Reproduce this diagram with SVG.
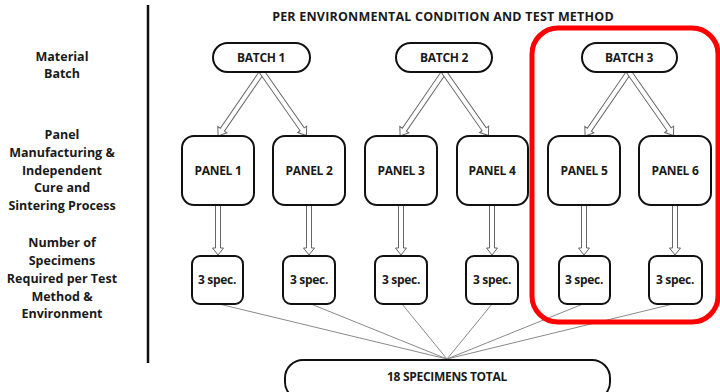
<svg xmlns="http://www.w3.org/2000/svg" width="720" height="392" viewBox="0 0 720 392">
<style>
text{font-family:"Open Sans","Liberation Sans",Arial,sans-serif;font-weight:bold;fill:#1a1a1a;text-anchor:middle}
.lbl{font-size:12.5px}
.ttl{font-size:12.5px;letter-spacing:0.2px}
.nt{font-size:12px;letter-spacing:-0.3px}
.box{fill:#fff;stroke:#111;stroke-width:2}
.arr{fill:#fff;stroke:#666;stroke-width:1}
.ln{stroke:#8a8a8a;stroke-width:1;fill:none}
</style>
<defs>
<path id="ad" class="arr" d="M0,-2.5 L70,-2.5 L70,-5.5 L77.5,0 L70,5.5 L70,2.5 L0,2.5 Z"/>
<path id="av" class="arr" d="M0,-2.5 L43,-2.5 L43,-5.5 L50,0 L43,5.5 L43,2.5 L0,2.5 Z"/>
</defs>
<rect width="720" height="392" fill="#fff"/>
<line x1="148" y1="5" x2="148" y2="363" stroke="#111" stroke-width="2.5"/>
<text x="443" y="21" class="ttl">PER ENVIRONMENTAL CONDITION AND TEST METHOD</text>
<g id="labels">
<text x="62" y="61" class="lbl">Material</text>
<text x="62" y="78" class="lbl">Batch</text>
<text x="62" y="139" class="lbl">Panel</text>
<text x="62" y="157" class="lbl">Manufacturing &amp;</text>
<text x="62" y="175" class="lbl">Independent</text>
<text x="62" y="192" class="lbl">Cure and</text>
<text x="62" y="210" class="lbl">Sintering Process</text>
<text x="62" y="247" class="lbl">Number of</text>
<text x="62" y="265" class="lbl">Specimens</text>
<text x="62" y="283" class="lbl">Required per Test</text>
<text x="62" y="301" class="lbl">Method &amp;</text>
<text x="62" y="318" class="lbl">Environment</text>
</g>
<g id="connectors">
<line class="ln" x1="219" y1="304" x2="447" y2="359"/>
<line class="ln" x1="311" y1="304" x2="447" y2="359"/>
<line class="ln" x1="402" y1="304" x2="447" y2="359"/>
<line class="ln" x1="492" y1="304" x2="447" y2="359"/>
<line class="ln" x1="583" y1="304" x2="447" y2="359"/>
<line class="ln" x1="673" y1="304" x2="447" y2="359"/>
<use href="#ad" transform="translate(262,72) rotate(124.5)"/>
<use href="#ad" transform="translate(262,72) rotate(55)"/>
<use href="#ad" transform="translate(444,72) rotate(124.5)"/>
<use href="#ad" transform="translate(444,72) rotate(55)"/>
<use href="#ad" transform="translate(629,72) rotate(124.5)"/>
<use href="#ad" transform="translate(629,72) rotate(55)"/>
<use href="#av" transform="translate(218,205) rotate(90)"/>
<use href="#av" transform="translate(309,205) rotate(90)"/>
<use href="#av" transform="translate(401,205) rotate(90)"/>
<use href="#av" transform="translate(492,205) rotate(90)"/>
<use href="#av" transform="translate(584,205) rotate(90)"/>
<use href="#av" transform="translate(675,205) rotate(90)"/>
</g>
<g id="batch1"><rect class="box" x="213" y="43" width="97" height="29" rx="14.5"/><text x="261" y="62" class="nt">BATCH 1</text></g>
<g id="batch2"><rect class="box" x="396" y="43" width="96" height="29" rx="14.5"/><text x="444" y="62" class="nt">BATCH 2</text></g>
<g id="batch3"><rect class="box" x="582" y="43" width="95" height="29" rx="14.5"/><text x="629" y="62" class="nt">BATCH 3</text></g>
<g id="panel1"><rect class="box" x="182" y="136" width="72" height="69" rx="12"/><text x="218" y="175" class="nt">PANEL 1</text></g>
<g id="panel2"><rect class="box" x="273" y="136" width="72" height="69" rx="12"/><text x="309" y="175" class="nt">PANEL 2</text></g>
<g id="panel3"><rect class="box" x="365" y="136" width="72" height="69" rx="12"/><text x="401" y="175" class="nt">PANEL 3</text></g>
<g id="panel4"><rect class="box" x="457" y="136" width="71" height="69" rx="12"/><text x="492" y="175" class="nt">PANEL 4</text></g>
<g id="panel5"><rect class="box" x="548" y="136" width="72" height="69" rx="12"/><text x="584" y="175" class="nt">PANEL 5</text></g>
<g id="panel6"><rect class="box" x="639" y="136" width="72" height="69" rx="12"/><text x="675" y="175" class="nt">PANEL 6</text></g>
<g id="spec1"><rect class="box" x="192" y="256" width="51" height="48" rx="8"/><text x="217" y="284" class="nt">3 spec.</text></g>
<g id="spec2"><rect class="box" x="283" y="256" width="52" height="48" rx="8"/><text x="309" y="284" class="nt">3 spec.</text></g>
<g id="spec3"><rect class="box" x="375" y="256" width="52" height="48" rx="8"/><text x="401" y="284" class="nt">3 spec.</text></g>
<g id="spec4"><rect class="box" x="466" y="256" width="52" height="48" rx="8"/><text x="492" y="284" class="nt">3 spec.</text></g>
<g id="spec5"><rect class="box" x="559" y="256" width="51" height="48" rx="8"/><text x="584" y="284" class="nt">3 spec.</text></g>
<g id="spec6"><rect class="box" x="649" y="256" width="53" height="48" rx="8"/><text x="675" y="284" class="nt">3 spec.</text></g>
<g id="total"><rect class="box" x="285" y="360" width="325" height="40" rx="18"/><text x="447" y="381" class="nt">18 SPECIMENS TOTAL</text></g>
<rect id="highlight" x="532" y="28" width="186" height="294" rx="26" fill="none" stroke="#ff0000" stroke-width="5"/>
</svg>
